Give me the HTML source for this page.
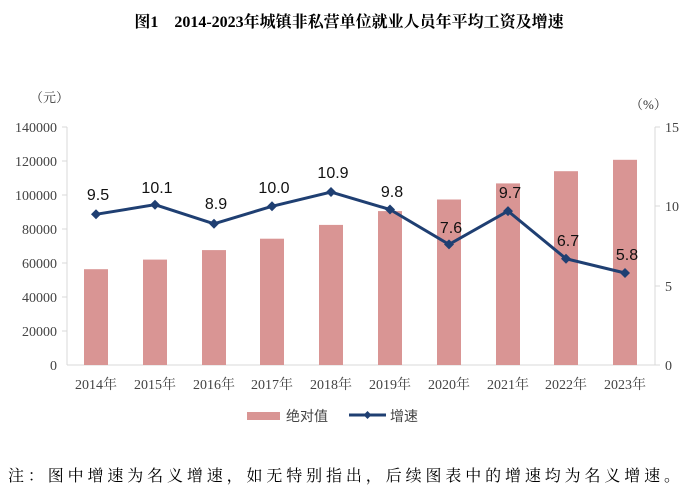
<!DOCTYPE html>
<html><head><meta charset="utf-8"><style>
body{margin:0;background:#fff;}
svg text{font-family:"Liberation Serif","Noto Serif CJK SC",serif;}
svg text.s{font-family:"Liberation Sans","Noto Sans CJK SC",sans-serif;}
</style></head><body>
<svg width="699" height="498" xmlns="http://www.w3.org/2000/svg">
<text x="349" y="27" text-anchor="middle" font-size="16" font-weight="bold" fill="#000">图1　2014-2023年城镇非私营单位就业人员年平均工资及增速</text>
<text x="30" y="102" font-size="13" fill="#333">（元）</text>
<text x="630" y="109" font-size="13" fill="#333">（%）</text>
<g stroke="#d9d9d9" stroke-width="1">
<line x1="67" y1="127" x2="67" y2="365"/>
<line x1="67" y1="365" x2="655" y2="365"/>
<line x1="655" y1="127" x2="655" y2="365"/>
<line x1="62" y1="127" x2="67" y2="127"/><line x1="62" y1="161" x2="67" y2="161"/><line x1="62" y1="195" x2="67" y2="195"/><line x1="62" y1="229" x2="67" y2="229"/><line x1="62" y1="263" x2="67" y2="263"/><line x1="62" y1="297" x2="67" y2="297"/><line x1="62" y1="331" x2="67" y2="331"/>
<line x1="655" y1="127" x2="660" y2="127"/><line x1="655" y1="206" x2="660" y2="206"/><line x1="655" y1="286" x2="660" y2="286"/><line x1="655" y1="365" x2="660" y2="365"/>
</g>
<g font-size="14" fill="#444" text-anchor="end">
<text x="57" y="132">140000</text><text x="57" y="166">120000</text><text x="57" y="200">100000</text><text x="57" y="234">80000</text><text x="57" y="268">60000</text><text x="57" y="302">40000</text><text x="57" y="336">20000</text><text x="57" y="370">0</text>
</g>
<g font-size="14" fill="#444">
<text x="665" y="132">15</text><text x="665" y="211">10</text><text x="665" y="291">5</text><text x="665" y="370">0</text>
</g>
<g fill="#d99594">
<rect x="84" y="269.2" width="24" height="95.8"/>
<rect x="143" y="259.6" width="24" height="105.4"/>
<rect x="202" y="250.1" width="24" height="114.9"/>
<rect x="260" y="238.7" width="24" height="126.3"/>
<rect x="319" y="224.9" width="24" height="140.1"/>
<rect x="378" y="211.1" width="24" height="153.9"/>
<rect x="437" y="199.5" width="24" height="165.5"/>
<rect x="496" y="183.4" width="24" height="181.6"/>
<rect x="554" y="171.2" width="24" height="193.8"/>
<rect x="613" y="159.8" width="24" height="205.2"/>
</g>
<polyline fill="none" stroke="#1f3f72" stroke-width="3" points="96,214.3 155,204.7 214,223.8 272,206.3 331,192.0 390,209.5 449,244.4 508,211.1 566,258.7 625,273.0"/>
<g fill="#1f3f72">
<path d="M96,209.3l5,5l-5,5l-5,-5z"/><path d="M155,199.7l5,5l-5,5l-5,-5z"/><path d="M214,218.8l5,5l-5,5l-5,-5z"/><path d="M272,201.3l5,5l-5,5l-5,-5z"/><path d="M331,187l5,5l-5,5l-5,-5z"/><path d="M390,204.5l5,5l-5,5l-5,-5z"/><path d="M449,239.4l5,5l-5,5l-5,-5z"/><path d="M508,206.1l5,5l-5,5l-5,-5z"/><path d="M566,253.7l5,5l-5,5l-5,-5z"/><path d="M625,268l5,5l-5,5l-5,-5z"/>
</g>
<g font-size="16" fill="#111" text-anchor="middle">
<text class="s" x="98" y="200">9.5</text><text class="s" x="157" y="193">10.1</text><text class="s" x="216" y="209">8.9</text><text class="s" x="274" y="193">10.0</text><text class="s" x="333" y="178">10.9</text><text class="s" x="392" y="197">9.8</text><text class="s" x="451" y="233">7.6</text><text class="s" x="510" y="198">9.7</text><text class="s" x="568" y="246">6.7</text><text class="s" x="627" y="260">5.8</text>
</g>
<g font-size="14" fill="#444" text-anchor="middle">
<text x="96" y="389">2014年</text><text x="155" y="389">2015年</text><text x="214" y="389">2016年</text><text x="272" y="389">2017年</text><text x="331" y="389">2018年</text><text x="390" y="389">2019年</text><text x="449" y="389">2020年</text><text x="508" y="389">2021年</text><text x="566" y="389">2022年</text><text x="625" y="389">2023年</text>
</g>
<rect x="247" y="412" width="33" height="8" fill="#d99594"/>
<text class="s" x="286" y="421" font-size="14" fill="#444">绝对值</text>
<line x1="349" y1="415" x2="386" y2="415" stroke="#1f3f72" stroke-width="3"/>
<path d="M367.5,411l4,4l-4,4l-4,-4z" fill="#1f3f72"/>
<text class="s" x="390" y="421" font-size="14" fill="#444">增速</text>
<text x="8" y="481" font-size="16" fill="#000" textLength="672" lengthAdjust="spacing">注：图中增速为名义增速，如无特别指出，后续图表中的增速均为名义增速。</text>
</svg>
</body></html>
